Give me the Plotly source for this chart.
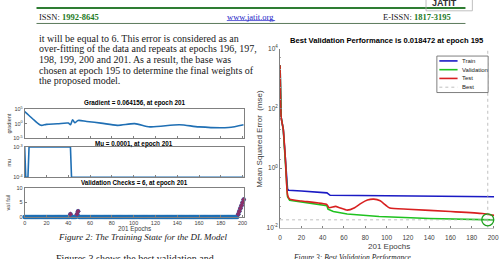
import plotly.graph_objects as go

W, H = 503, 259

def px(x):
    return x / W

def py(y):
    return 1 - y / H

# ---------------- data ----------------
grad_epochs = [0, 4, 9, 15, 20, 30, 40, 42, 44, 46, 49, 57, 70, 85, 101, 115, 142, 160, 187, 201]
grad_values = [12600, 630, 12.6, 0.27, 0.59, 0.9, 1.6, 0.47, 21, 2.1, 12.6, 5.9, 1.6, 0.27, 1.0, 0.08, 0.45, 0.08, 0.05, 0.45]

mu_epochs = [0, 1, 3, 4, 42, 43, 201]
mu_values = [1e-3, 1e-4, 1e-4, 1e-3, 1e-3, 1e-4, 1e-4]

val_epochs = list(range(202))
val_fail = [0] * 42 + [1] + [0] * 5 + [1, 2] + [0] * 146 + [1, 2, 3, 4, 5, 6]

train_epochs = [0, 1, 3, 5, 7, 8, 10, 20, 44, 47, 100, 201]
train_mse = [2800, 50, 20, 2.0, 0.2, 0.18, 0.177, 0.17, 0.148, 0.123, 0.118, 0.11]

valid_epochs = [0, 1, 3, 5, 7, 9, 20, 44, 45, 50, 63, 93, 140, 195, 201]
valid_mse = [2800, 50, 20, 1.8, 0.11, 0.083, 0.074, 0.055, 0.042, 0.035, 0.029, 0.024, 0.0204, 0.018472, 0.0184]

test_epochs = [0, 1, 3, 5, 7, 9, 20, 44, 46, 52, 56, 63, 70, 76, 82, 88, 94, 99, 103, 120, 160, 190, 201]
test_mse = [2800, 50, 20, 2.0, 0.126, 0.091, 0.079, 0.060, 0.047, 0.052, 0.047, 0.039, 0.047, 0.066, 0.085, 0.091, 0.08, 0.058, 0.046, 0.042, 0.035, 0.030, 0.026]

best_epoch = 195
best_perf = 0.018472

epoch_ticks = [0, 20, 40, 60, 80, 100, 120, 140, 160, 180, 200]
grad_tickvals = [1e-5, 1, 1e5]
grad_ticktext = ["10<sup>-5</sup>", "10<sup>0</sup>", "10<sup>5</sup>"]
mu_tickvals = [1e-4, 1e-3]
mu_ticktext = ["10<sup>-4</sup>", "10<sup>-3</sup>"]
val_tickvals = [0, 5, 10]
perf_tickvals = [1e-2, 1, 1e2, 1e4]
perf_ticktext = ["10<sup>-2</sup>", "10<sup>0</sup>", "10<sup>2</sup>", "10<sup>4</sup>"]

legend_names = ["Train", "Validation", "Test", "Best"]
legend_colors = ["#1a1ac4", "#1fc21f", "#d82020", "#b0b0b0"]

body_lines = [
    "it will be equal to 6. This error is considered as an",
    "over-fitting of the data and repeats at epochs 196, 197,",
    "198, 199, 200 and 201. As a result, the base was",
    "chosen at epoch 195 to determine the final weights of",
    "the proposed model.",
]

# ---------------- styles ----------------
SANS = "Liberation Sans, Arial, sans-serif"
SERIF = "Liberation Serif, Times New Roman, serif"
MBLUE = "#1f6fb4"
AXC = "#808080"
TXC = "#404040"

fig = go.Figure()

fig.add_trace(go.Scatter(x=grad_epochs, y=grad_values, mode="lines", line=dict(color=MBLUE, width=1.6, shape="spline", smoothing=0.8),
                         xaxis="x", yaxis="y", showlegend=False))
fig.add_trace(go.Scatter(x=mu_epochs, y=mu_values, mode="lines", line=dict(color=MBLUE, width=1.6),
                         xaxis="x2", yaxis="y2", showlegend=False, cliponaxis=False))
fig.add_trace(go.Scatter(x=val_epochs, y=val_fail, mode="lines+markers", line=dict(color=MBLUE, width=1.5),
                         marker=dict(color=MBLUE, size=4.5), xaxis="x3", yaxis="y3", showlegend=False, cliponaxis=False))
nz_x = [e for e, v in zip(val_epochs, val_fail) if v > 0]
nz_y = [v for v in val_fail if v > 0]
fig.add_trace(go.Scatter(x=nz_x, y=nz_y, mode="markers", marker=dict(color="#8a2f6a", size=4, symbol="diamond"),
                         xaxis="x3", yaxis="y3", showlegend=False, cliponaxis=False))

# performance
perf_series = [(train_epochs, train_mse, "linear"), (valid_epochs, valid_mse, "linear"), (test_epochs, test_mse, "spline")]
for (ex, ys, shp), name, col in zip(perf_series, legend_names, legend_colors):
    fig.add_trace(go.Scatter(x=ex, y=ys, mode="lines", name=name, showlegend=False,
                             line=dict(color=col, width=1.6, shape=shp, smoothing=0.5), xaxis="x4", yaxis="y4"))
fig.add_trace(go.Scatter(x=[0, 201, None, best_epoch, best_epoch], y=[best_perf, best_perf, None, 1e-2, 1e4], mode="lines", name="Best",
                         showlegend=False, line=dict(color="#b0b0b0", width=0.8, dash="dot"), xaxis="x4", yaxis="y4"))
fig.add_trace(go.Scatter(x=[best_epoch], y=[best_perf], mode="markers", showlegend=False,
                         marker=dict(symbol="circle-open", size=12, color="#1fa01f", line=dict(width=1.3)),
                         xaxis="x4", yaxis="y4", cliponaxis=False))

tickfont = dict(family=SANS, size=5.5, color=TXC)
left_dom = [px(23), px(245.1)]

def xax(anchor, labels):
    return dict(domain=left_dom, range=[0, 201], anchor=anchor, tickvals=epoch_ticks, showticklabels=labels,
                ticks="inside", ticklen=2, tickcolor=AXC, showline=True, mirror=True, linecolor=AXC, linewidth=0.8,
                showgrid=False, zeroline=False, tickfont=tickfont)

def yax(anchor, dom, **kw):
    d = dict(domain=dom, anchor=anchor, ticks="inside", ticklen=2, tickcolor=AXC, showline=True, mirror=True,
             linecolor=AXC, linewidth=0.8, showgrid=False, zeroline=False, tickfont=tickfont)
    d.update(kw)
    return d

fig.update_layout(
    width=W, height=H, margin=dict(l=0, r=0, t=0, b=0),
    paper_bgcolor="white", plot_bgcolor="white", showlegend=False,
    xaxis=xax("y", False),
    yaxis=yax("x", [py(138), py(108)], type="log", range=[-5, 5], tickvals=grad_tickvals, ticktext=grad_ticktext),
    xaxis2=xax("y2", False),
    yaxis2=yax("x2", [py(178), py(147)], type="log", range=[-4, -3], tickvals=mu_tickvals, ticktext=mu_ticktext),
    xaxis3=xax("y3", True),
    yaxis3=yax("x3", [py(219), py(189)], range=[0, 10], tickvals=val_tickvals),
    xaxis4=dict(domain=[px(282), px(499.1)], range=[0, 201], anchor="y4", tickvals=epoch_ticks, ticks="inside", ticklen=2,
                tickcolor=AXC, showline=True, linecolor="#c0c0c0", linewidth=0.8, showgrid=False, zeroline=False,
                ticklabelstandoff=4, tickfont=dict(family=SANS, size=6.5, color=TXC)),
    yaxis4=dict(domain=[py(230), py(46)], type="log", range=[-2, 4], anchor="x4", tickvals=perf_tickvals, ticktext=perf_ticktext,
                ticks="inside", ticklen=2, tickcolor=AXC, showline=True, linecolor=AXC, linewidth=0.8, showgrid=False,
                zeroline=False, tickfont=dict(family=SANS, size=6.5, color=TXC),
                minor=dict(ticks="inside", ticklen=1, tickcolor="#a0a0a0", showgrid=False)),
)

ann = []

def text(x, y, s, size, family=SANS, color="black", xanchor="center", angle=0, bold=False):
    ann.append(dict(x=px(x), y=py(y), xref="paper", yref="paper", text=("<b>%s</b>" % s) if bold else s,
                    showarrow=False, xanchor=xanchor, yanchor="middle", textangle=angle,
                    font=dict(family=family, size=size, color=color)))

# header
GREEN = "#1e7a1e"
text(36, 13, "ISSN: <span style='color:%s'><b>1992-8645</b></span>" % GREEN, 8.5, SERIF, "#202020", "left")
text(252, 13, "www.jatit.org", 8.5, SERIF, "#2323c8")
text(457, 13, "E-ISSN: <span style='color:%s'><b>1817-3195</b></span>" % GREEN, 8.5, SERIF, "#202020", "right")
text(449, -1, "JATIT", 9, SANS, "#303030", bold=True)

# body text
for line, yy in zip(body_lines, [35, 46, 57, 68, 79]):
    text(36, yy, line, 10, SERIF, "#202020", "left")

# left chart titles and labels
text(134, 102, "Gradient = 0.064156, at epoch 201", 6.3, bold=True)
text(134, 144, "Mu = 0.0001, at epoch 201", 6.3, bold=True)
text(134, 184, "Validation Checks = 6, at epoch 201", 6.3, bold=True)
text(7, 123, "gradient", 5.5, angle=-90, color=TXC)
text(7, 163, "mu", 5.5, angle=-90, color=TXC)
text(7, 204, "val fail", 5.5, angle=-90, color=TXC)
text(134, 231, "201 Epochs", 6.3, color=TXC)

# right chart titles and labels
text(390, 38, "Best Validation Performance is 0.018472 at epoch 195", 7.6, bold=True)
text(261, 138, "Mean Squared Error  (mse)", 8, angle=-90, color=TXC)
text(392, 249.5, "201 Epochs", 8, color=TXC)

# legend (box drawn below with shapes)
shapes = []
for i, (name, col) in enumerate(zip(legend_names, legend_colors)):
    yy = 58.5 + 9 * i
    text(464, yy, name, 6, SANS, "#202020", "left")
    shapes.append(dict(type="line", xref="paper", yref="paper", x0=px(443.5), x1=px(462), y0=py(yy), y1=py(yy),
                       line=dict(color=col, width=0.8 if name == "Best" else 1.6, dash="dot" if name == "Best" else "solid")))

# captions
text(142, 239, "<i>Figure 2: The Training State for the DL Model</i>", 9, SERIF, "#202020")
text(53, 262, "Figures 3 shows the best validation and", 10, SERIF, "#202020", "left")
text(293, 261, "<i>Figure 3: Best Validation Performance</i>", 7.5, SERIF, "#202020", "left")

fig.update_layout(annotations=ann)

shapes = [
    dict(type="rect", xref="paper", yref="paper", x0=px(441), x1=px(493), y0=py(91), y1=py(53.5),
         fillcolor="white", line=dict(color="#606060", width=0.8), layer="above"),
] + [dict(s, layer="above") for s in shapes] + [
    dict(type="line", xref="paper", yref="paper", x0=px(35), x1=px(470), y0=py(4), y1=py(4), line=dict(color="#2e7d32", width=2)),
    dict(type="line", xref="paper", yref="paper", x0=px(35), x1=px(470), y0=py(20), y1=py(20), line=dict(color="#5a7a5a", width=1)),
    dict(type="line", xref="paper", yref="paper", x0=px(228), x1=px(277), y0=py(17), y1=py(17), line=dict(color="#2323c8", width=0.7)),
    dict(type="rect", xref="paper", yref="paper", x0=px(430), x1=px(477), y0=py(7), y1=py(-5), line=dict(color="#b0b0b0", width=0.8)),
]
fig.update_layout(shapes=shapes)

fig.write_html("out.html")
